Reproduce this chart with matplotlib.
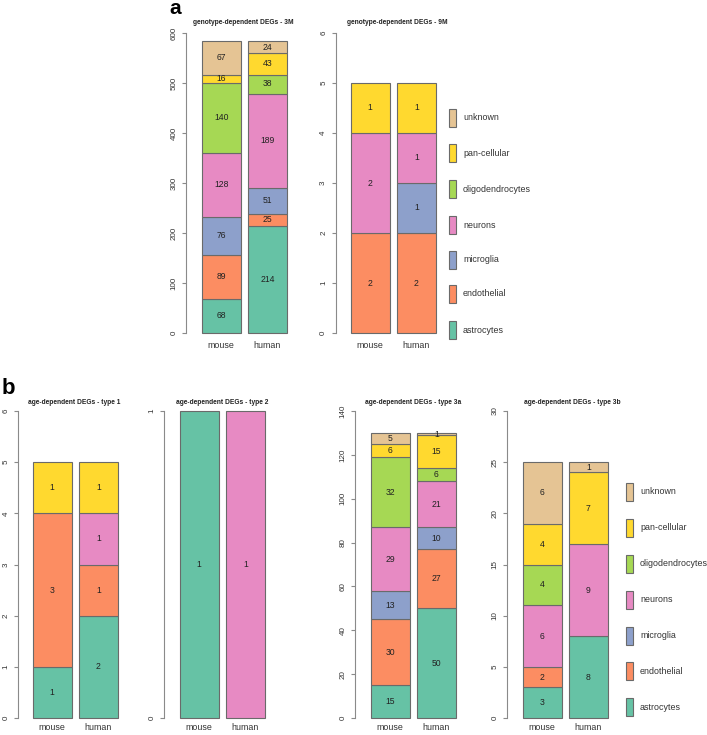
import matplotlib
matplotlib.use("Agg")
import matplotlib.pyplot as plt
from matplotlib.patches import Rectangle

plt.rcParams['font.family'] = ['Liberation Sans', 'DejaVu Sans']

# ---------------- data ----------------
categories = ["astrocytes", "endothelial", "microglia", "neurons",
              "oligodendrocytes", "pan-cellular", "unknown"]
colors = ["#66C2A5", "#FC8D62", "#8DA0CB", "#E78AC3",
          "#A6D854", "#FFD92F", "#E5C494"]
groups = ["mouse", "human"]

geno3M_mouse = [68, 89, 76, 128, 140, 16, 67]
geno3M_human = [214, 25, 51, 189, 38, 43, 24]
geno9M_mouse = [0, 2, 0, 2, 0, 1, 0]
geno9M_human = [0, 2, 1, 1, 0, 1, 0]
type1_mouse = [1, 3, 0, 0, 0, 1, 0]
type1_human = [2, 1, 0, 1, 0, 1, 0]
type2_mouse = [1, 0, 0, 0, 0, 0, 0]
type2_human = [0, 0, 0, 1, 0, 0, 0]
type3a_mouse = [15, 30, 13, 29, 32, 6, 5]
type3a_human = [50, 27, 10, 21, 6, 15, 1]
type3b_mouse = [3, 2, 0, 6, 4, 4, 6]
type3b_human = [8, 0, 0, 9, 0, 7, 1]

ticks_3M = [0, 100, 200, 300, 400, 500, 600]
ticks_9M = [0, 1, 2, 3, 4, 5, 6]
ticks_t1 = [0, 1, 2, 3, 4, 5, 6]
ticks_t2 = [0, 1]
ticks_t3a = [0, 20, 40, 60, 80, 100, 120, 140]
ticks_t3b = [0, 5, 10, 15, 20, 25, 30]

# ---------------- figure ----------------
W, H = 707, 735
fig = plt.figure(figsize=(W / 100, H / 100), dpi=100)

AXC = "#8a8a8a"
EDGE = "#6a6a6a"
U = 38.5  # pixels per bar width unit


def panel(axis_px, bar_px, top_px, bot_px, ticks, mouse, human, title, title_x, title_y, xlab_y):
    ymax = ticks[-1]
    left_data = 0.2 - (bar_px - axis_px) / U
    right_data = 2.5
    w = (right_data - left_data) * U
    ax = fig.add_axes([axis_px / W, 1 - bot_px / H, w / W, (bot_px - top_px) / H])
    ax.set_xlim(left_data, right_data)
    ax.set_ylim(0, ymax)
    xs = [0.7, 1.9]
    bottoms = [0, 0]
    for i, cat in enumerate(categories):
        vals = [mouse[i], human[i]]
        for j in range(2):
            if vals[j] > 0:
                ax.bar(xs[j], vals[j], bottom=bottoms[j], width=1.0,
                       color=colors[i], edgecolor=EDGE, linewidth=0.8, clip_on=False)
                ax.text(xs[j], bottoms[j] + vals[j] / 2, str(vals[j]),
                        ha="center", va="center", fontsize=6.2, color="#222222")
                bottoms[j] += vals[j]
    for s in ["top", "right", "bottom"]:
        ax.spines[s].set_visible(False)
    ax.spines["left"].set_color(AXC)
    ax.spines["left"].set_linewidth(0.8)
    ax.spines["left"].set_bounds(0, ymax)
    ax.set_yticks(ticks)
    ax.set_yticklabels([str(t) for t in ticks], rotation=90, va="center",
                       fontsize=5.8, color="#333333")
    ax.tick_params(axis="y", length=3, width=0.8, color=AXC, pad=3)
    ax.set_xticks([])
    for j, g in enumerate(groups):
        fig.text((bar_px + (xs[j] - 0.7) * U + U / 2) / W, 1 - xlab_y / H, g,
                 ha="center", va="center", fontsize=6.4, color="#333333")
    fig.text(title_x / W, 1 - title_y / H, title, ha="center", va="center",
             fontsize=4.8, fontweight="bold", color="#222222")
    return ax


def legend(box_x, text_x, rows_y):
    # rows_y ordered top (unknown) to bottom (astrocytes)
    for k, cat in enumerate(reversed(categories)):
        ci = len(categories) - 1 - k
        y = rows_y[k]
        fig.patches.append(Rectangle((box_x / W, 1 - (y + 9) / H), 6.5 / W, 18 / H,
                                     transform=fig.transFigure, facecolor=colors[ci],
                                     edgecolor=EDGE, linewidth=0.8))
        fig.text(text_x / W, 1 - y / H, cat, ha="left", va="center",
                 fontsize=6.4, color="#333333")


# panel a
panel(186, 202, 33, 333, ticks_3M, geno3M_mouse, geno3M_human,
      "genotype-dependent DEGs - 3M", 243, 22, 345)
panel(335.5, 351, 33, 333, ticks_9M, geno9M_mouse, geno9M_human,
      "genotype-dependent DEGs - 9M", 397, 22, 345)
legend(449, 463, [118, 153, 189, 225, 260, 294, 330])

# panel b
panel(18, 33, 411, 718, ticks_t1, type1_mouse, type1_human,
      "age-dependent DEGs - type 1", 74, 403, 728)
panel(164, 180, 411, 718, ticks_t2, type2_mouse, type2_human,
      "age-dependent DEGs - type 2", 222, 403, 728)
panel(355, 371, 411, 718, ticks_t3a, type3a_mouse, type3a_human,
      "age-dependent DEGs - type 3a", 413, 403, 728)
panel(507, 523, 411, 718, ticks_t3b, type3b_mouse, type3b_human,
      "age-dependent DEGs - type 3b", 572, 403, 728)
legend(626, 640, [492, 528, 564, 600, 636, 671, 707])

fig.text(175 / W, 1 - 13.5 / H, "a", ha="center", va="baseline", fontsize=15, fontweight="bold")
fig.text(8 / W, 1 - 394 / H, "b", ha="center", va="baseline", fontsize=16, fontweight="bold")

fig.savefig("out.png", dpi=100)
